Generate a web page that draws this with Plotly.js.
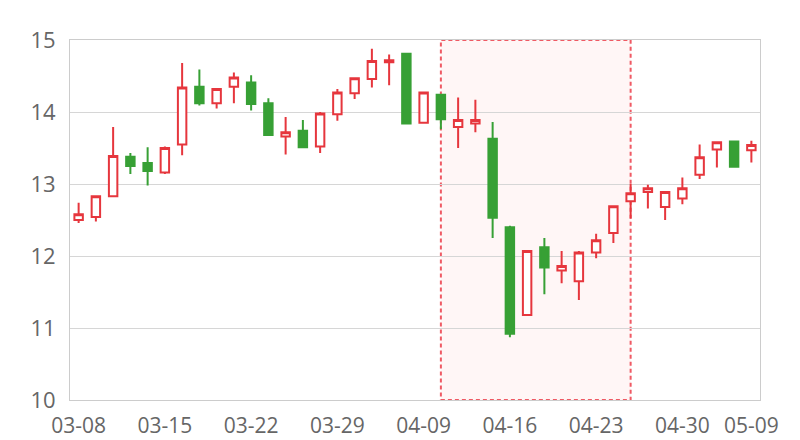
<!DOCTYPE html>
<html>
<head>
<meta charset="utf-8">
<script src="https://cdn.plot.ly/plotly-3.0.1.min.js"></script>
<style>html,body{margin:0;padding:0;background:#fff;}#chart{width:800px;height:440px;}</style>
</head>
<body>
<div id="chart"></div>
<script>
const dates = ['03-08','03-09','03-10','03-11','03-12','03-15','03-16','03-17','03-18','03-19',
  '03-22','03-23','03-24','03-25','03-26','03-29','03-30','03-31','04-01','04-02',
  '04-09','04-12','04-13','04-14','04-15','04-16','04-19','04-20','04-21','04-22',
  '04-23','04-26','04-27','04-28','04-29','04-30','05-06','05-07','05-08','05-09'];
const openVals = [12.50,12.54,12.83,13.38,13.29,13.16,13.55,14.35,14.12,14.35,
  14.41,14.12,13.66,13.74,13.52,13.97,14.26,14.46,14.69,14.81,
  13.85,14.24,13.79,13.84,13.63,12.40,11.18,12.12,11.80,11.65,
  12.05,12.32,12.76,12.89,12.68,12.80,13.13,13.48,13.59,13.47];
const highVals = [12.74,12.84,13.79,13.43,13.51,13.52,14.68,14.59,14.33,14.55,
  14.51,14.19,13.93,13.89,14.00,14.32,14.48,14.88,14.80,14.82,
  14.27,14.25,14.20,14.17,13.86,12.42,12.07,12.25,12.07,12.07,
  12.31,12.69,13.00,12.99,12.90,13.09,13.55,13.59,13.59,13.60];
const lowVals = [12.46,12.48,12.82,13.14,12.98,13.14,13.40,14.09,14.05,14.12,
  14.02,13.68,13.41,13.51,13.43,13.88,14.18,14.34,14.37,13.83,
  13.85,13.76,13.50,13.72,12.25,10.87,11.18,11.47,11.62,11.39,
  11.97,12.18,12.52,12.66,12.50,12.72,13.07,13.23,13.24,13.30];
const closeVals = [12.58,12.83,13.39,13.25,13.18,13.50,14.34,14.12,14.32,14.48,
  14.11,13.68,13.72,13.51,13.98,14.27,14.47,14.71,14.72,13.84,
  14.27,13.90,13.89,13.89,12.53,10.92,12.07,11.84,11.86,12.05,
  12.22,12.69,12.87,12.94,12.89,12.94,13.37,13.58,13.24,13.54];
const tickDates = ['03-08','03-15','03-22','03-29','04-09','04-16','04-23','04-30','05-09'];
const yTicks = [10,11,12,13,14,15];
const areaStart = '04-12';
const areaEnd = '04-27';

const upColor = '#e6363d';
const downColor = '#37a035';

const trace = {
  type: 'candlestick',
  x: dates,
  open: openVals,
  high: highVals,
  low: lowVals,
  close: closeVals,
  increasing: {line: {color: upColor, width: 2}, fillcolor: '#ffffff'},
  decreasing: {line: {color: downColor, width: 2}, fillcolor: downColor},
  whiskerwidth: 0,
  hoverinfo: 'none'
};

const layout = {
  width: 800, height: 440,
  margin: {l: 70, r: 40, t: 40, b: 40},
  paper_bgcolor: '#ffffff',
  plot_bgcolor: '#ffffff',
  showlegend: false,
  font: {family: 'Open Sans, sans-serif', color: '#666666', size: 21},
  xaxis: {
    type: 'category',
    range: [-0.5, dates.length - 0.5],
    rangeslider: {visible: false},
    tickmode: 'array',
    tickvals: tickDates,
    ticktext: tickDates,
    showgrid: false,
    showline: true, linecolor: '#cccccc', linewidth: 1, mirror: true,
    ticks: '',
    ticklabelstandoff: 7,
    tickfont: {size: 21, color: '#666666'}
  },
  yaxis: {
    range: [10, 15],
    tickmode: 'array',
    tickvals: yTicks,
    showgrid: true, gridcolor: '#d6d6d6', gridwidth: 1,
    zeroline: false,
    showline: true, linecolor: '#cccccc', linewidth: 1, mirror: true,
    ticks: '',
    ticklabelstandoff: 9,
    tickfont: {size: 22, color: '#666666'}
  },
  shapes: [{
    type: 'rect', xref: 'x', yref: 'paper',
    x0: areaStart, x1: areaEnd, y0: 0, y1: 1,
    fillcolor: 'rgba(255,225,225,0.3)',
    line: {color: '#ef5a64', width: 2, dash: '4px,3px'},
    layer: 'below'
  }]
};

Plotly.newPlot('chart', [trace], layout, {displayModeBar: false, staticPlot: true});
</script>
</body>
</html>
